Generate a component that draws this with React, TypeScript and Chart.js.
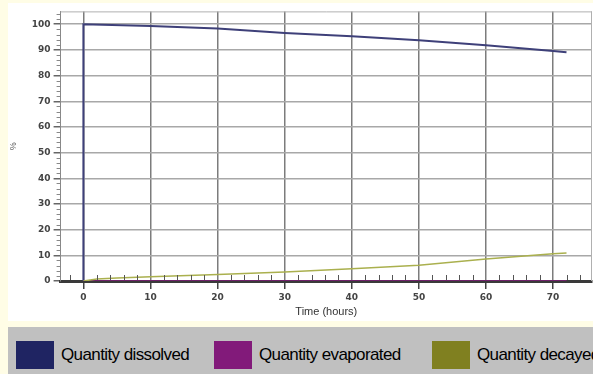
import React, { useEffect, useRef } from "react";
import { Chart, registerables } from "chart.js";

Chart.register(...registerables);

const seriesLabels = ["Quantity dissolved", "Quantity evaporated", "Quantity decayed"];
const seriesBoxColors = ["#1F2462", "#821A7A", "#808020"];
const seriesLineColors = ["#3E4079", "#821A7A", "#AAB04E"];

const dissolvedTimes = [0, 0, 10, 20, 30, 40, 50, 60, 70, 72];
const dissolvedValues = [0, 100, 99.3, 98.3, 96.6, 95.3, 93.8, 91.8, 89.6, 89.1];

const otherTimes = [0, 2, 5, 10, 20, 30, 40, 50, 60, 70, 72];
const evaporatedValues = [0, 0, 0, 0, 0, 0, 0, 0, 0, 0, 0];
const decayedValues = [0, 0.8, 1.2, 1.7, 2.5, 3.5, 4.8, 6.1, 8.6, 10.6, 10.9];

const xTickValues = [0, 10, 20, 30, 40, 50, 60, 70];
const yTickValues = [0, 10, 20, 30, 40, 50, 60, 70, 80, 90, 100];

const xMin = -3.4;
const xMax = 75.8;
const yMin = 0;
const yMax = 105;
const minorStep = 2;

const toPoints = (xs: number[], ys: number[]) => xs.map((x, i) => ({ x, y: ys[i] }));

const minorTicksPlugin = {
  id: "minorTicks",
  afterDraw(chart: any) {
    const { ctx, chartArea, scales } = chart;
    const xs = scales.x;
    const ys = scales.y;
    ctx.save();
    ctx.strokeStyle = "#B0B0B0";
    ctx.lineWidth = 1;
    ctx.beginPath();
    ctx.moveTo(chartArea.left, chartArea.top + 0.5);
    ctx.lineTo(chartArea.right, chartArea.top + 0.5);
    ctx.moveTo(chartArea.right - 0.5, chartArea.top);
    ctx.lineTo(chartArea.right - 0.5, chartArea.bottom);
    ctx.stroke();
    ctx.strokeStyle = "#555";
    ctx.beginPath();
    for (let v = Math.ceil(xMin / minorStep) * minorStep; v <= xMax; v += minorStep) {
      if (xTickValues.includes(v)) continue;
      const px = Math.round(xs.getPixelForValue(v)) + 0.5;
      ctx.moveTo(px, chartArea.bottom - 1);
      ctx.lineTo(px, chartArea.bottom - 6);
    }
    ctx.stroke();
    ctx.strokeStyle = "#888";
    ctx.beginPath();
    for (let v = yMin + minorStep; v <= yMax; v += minorStep) {
      if (yTickValues.includes(v)) continue;
      const py = Math.round(ys.getPixelForValue(v)) + 0.5;
      ctx.moveTo(chartArea.left - 4, py);
      ctx.lineTo(chartArea.left, py);
    }
    ctx.stroke();
    ctx.restore();
  },
};

export default function App() {
  const ref = useRef<HTMLCanvasElement | null>(null);

  useEffect(() => {
    if (!ref.current) return;
    const tickFont = { family: "'DejaVu Sans', Arial", size: 9, weight: "bold" as const };
    const chart = new Chart(ref.current, {
      type: "line",
      data: {
        datasets: [
          {
            label: seriesLabels[2],
            data: toPoints(otherTimes, decayedValues),
            borderColor: seriesLineColors[2],
            backgroundColor: seriesBoxColors[2],
            borderWidth: 1.5,
            pointRadius: 0,
            tension: 0,
          },
          {
            label: seriesLabels[1],
            data: toPoints(otherTimes, evaporatedValues),
            borderColor: seriesLineColors[1],
            backgroundColor: seriesBoxColors[1],
            borderWidth: 1.5,
            pointRadius: 0,
            tension: 0,
          },
          {
            label: seriesLabels[0],
            data: toPoints(dissolvedTimes, dissolvedValues),
            borderColor: seriesLineColors[0],
            backgroundColor: seriesBoxColors[0],
            borderWidth: 2,
            pointRadius: 0,
            tension: 0,
          },
        ],
      },
      options: {
        responsive: false,
        maintainAspectRatio: false,
        animation: false,
        layout: { padding: { left: 0, right: 1, top: 8, bottom: 0 } },
        plugins: { legend: { display: false }, tooltip: { enabled: false } },
        scales: {
          x: {
            type: "linear",
            min: xMin,
            max: xMax,
            afterBuildTicks: (scale: any) => {
              scale.ticks = xTickValues.map((v) => ({ value: v }));
            },
            ticks: { font: tickFont, color: "#444", padding: 3, maxRotation: 0, autoSkip: false },
            grid: { color: "#7C7C7C", lineWidth: 1.5, tickLength: 8, tickColor: "#444" },
            border: { color: "#3A3A3A", width: 3 },
            title: {
              display: true,
              text: "Time (hours)",
              font: { family: "Arial, 'Liberation Sans'", size: 11 },
              color: "#333",
              padding: { top: 0, bottom: 2 },
            },
          },
          y: {
            type: "linear",
            min: yMin,
            max: yMax,
            afterBuildTicks: (scale: any) => {
              scale.ticks = yTickValues.map((v) => ({ value: v }));
            },
            ticks: { font: tickFont, color: "#444", padding: 3, autoSkip: false },
            grid: { color: "#A8A8A8", lineWidth: 1.5, tickLength: 7, tickColor: "#666" },
            border: { color: "#888", width: 1 },
            title: {
              display: true,
              text: "%",
              font: { family: "Arial, 'Liberation Sans'", size: 9 },
              color: "#555",
              padding: { top: 0, bottom: 10 },
            },
          },
        },
      },
      plugins: [minorTicksPlugin],
    });
    return () => chart.destroy();
  }, []);

  return (
    <div
      style={{
        position: "fixed",
        left: 0,
        top: 0,
        width: 593,
        height: 374,
        background: "#FFFDE6",
        overflow: "hidden",
      }}
    >
      <div style={{ position: "absolute", left: 8, top: 3, width: 585, height: 318, background: "#FFFFFF" }}>
        <canvas ref={ref} width={585} height={318} style={{ display: "block", width: 585, height: 318 }} />
      </div>
      <div
        style={{
          position: "absolute",
          left: 8,
          top: 327,
          width: 600,
          height: 47,
          background: "#C0C0C0",
          whiteSpace: "nowrap",
          fontFamily: "Arial, 'Liberation Sans', sans-serif",
          fontSize: 17,
          letterSpacing: -0.6,
          color: "#000",
        }}
      >
        {seriesLabels.map((label, i) => (
          <span
            key={label}
            style={{
              position: "absolute",
              top: 14,
              left: [8, 206, 424][i],
              display: "flex",
              alignItems: "center",
              height: 28,
            }}
          >
            <span style={{ display: "inline-block", width: 38, height: 28, background: seriesBoxColors[i], marginRight: 7 }} />
            <span>{label}</span>
          </span>
        ))}
      </div>
    </div>
  );
}
